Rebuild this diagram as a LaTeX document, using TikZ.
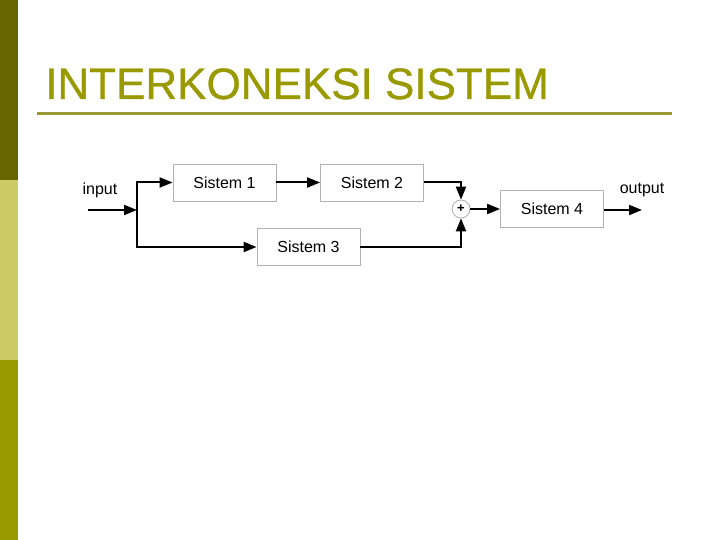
\documentclass[tikz,border=0pt]{standalone}
\usepackage{fontspec}
\setmainfont{Liberation Sans}
\newfontfamily\judulfont[FakeBold=0.7]{Liberation Sans}
\usetikzlibrary{arrows.meta}
\definecolor{zaitun}{HTML}{666600}
\definecolor{zaitunmuda}{HTML}{CCCC66}
\definecolor{judul}{HTML}{999900}
\definecolor{garisjudul}{HTML}{999933}
\begin{document}
\begin{tikzpicture}[x=1pt,y=-1pt,
    blok/.style={draw=black!30, line width=0.8pt, minimum width=103pt, minimum height=37pt,
        inner sep=0pt, font=\fontsize{16}{19}\selectfont},
    jumlah/.style={circle, draw=black!35, line width=0.7pt, minimum size=18pt, inner sep=0pt,
        font=\fontsize{13}{13}\selectfont\bfseries},
    panah/.style={line width=2pt, -{Triangle[length=13pt,width=10pt]}},
    label/.style={font=\fontsize{16}{19}\selectfont}]
            \useasboundingbox[fill=white] (0,0) rectangle (720,540);
            \fill[zaitun] (0,0) rectangle (18,180);
            \fill[zaitunmuda] (0,180) rectangle (18,360);
            \fill[judul] (0,360) rectangle (18,540);
            \node[anchor=base west, text=judul, inner sep=0pt, font=\judulfont\fontsize{44}{50}\selectfont] (judul) at (45,99) {INTERKONEKSI SISTEM};
            \draw[garisjudul, line width=3pt] (37,114) -- (672,114);
            \node[blok] (s1) at (224.5,182.5) {Sistem 1};
            \node[blok] (s2) at (372,182.5) {Sistem 2};
            \node[blok] (s3) at (308.5,247) {Sistem 3};
            \node[blok] (s4) at (552,209) {Sistem 4};
            \node[jumlah] (sum) at (461,209) {+};
            \node[label] (input) at (100,190) {input};
            \node[label] (output) at (642,190) {output};
            \coordinate (masuk) at (88,210);
            \coordinate (cabang) at (137,210);
            \coordinate (keluar) at (642,210);
            \draw[panah] (masuk) -- (cabang);
            \draw[panah] (cabang) |- (s1);
            \draw[panah] (cabang) |- (s3);
            \draw[panah] (s1) -- (s2);
            \draw[panah] (s2) -| (sum);
            \draw[panah] (s3) -| (sum);
            \draw[panah] (sum) -- (s4);
            \draw[panah] (s4.east |- keluar) -- (keluar);
        \end{tikzpicture}
\end{document}
